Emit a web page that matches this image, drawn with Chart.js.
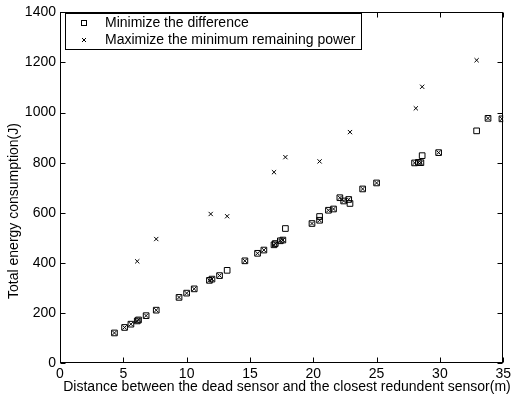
<!DOCTYPE html>
<html>
<head>
<meta charset="utf-8">
<script src="https://cdn.jsdelivr.net/npm/chart.js@4/dist/chart.umd.min.js"></script>
<style>
  html, body { margin: 0; padding: 0; background: #fff; }
  #wrap { width: 514px; height: 403px; }
</style>
</head>
<body>
<div id="wrap"><canvas id="energyChart" width="514" height="403"></canvas></div>
<script>
// Minimize the difference (squares)
const minDist = [4.3, 5.1, 5.6, 6.1, 6.2, 6.8, 7.6, 9.4, 10.0, 10.6, 11.8, 12.0, 12.6, 13.2, 14.6, 15.6, 16.1, 16.9, 17.0, 17.4,
                 17.6, 17.8, 19.9, 20.5, 20.5, 21.2, 21.6, 22.1, 22.4, 22.8, 22.9, 23.9, 25.0, 28.0, 28.3, 28.5, 28.6, 29.9, 32.9, 33.8, 34.9];
const minEnergy = [120, 142, 155, 168, 172, 189, 211, 262, 279, 296, 330, 335, 349, 370, 408, 438, 451, 472, 477, 488,
                   491, 537, 557, 570, 585, 610, 615, 660, 647, 653, 637, 695, 719, 799, 801, 800, 828, 840, 927, 977, 975];

// Maximize the minimum remaining power (crosses)
const maxDist = [4.3, 5.1, 5.6, 6.1, 6.2, 6.8, 7.6, 9.4, 10.0, 10.6, 11.8, 12.0, 12.6, 14.6, 15.6, 16.1, 16.9, 17.0, 17.4, 17.6,
                 19.9, 20.5, 21.2, 21.6, 22.1, 22.4, 22.8, 23.9, 25.0, 28.0, 28.3, 28.5, 29.9, 33.8, 34.9,
                 6.1, 7.6, 11.9, 13.2, 16.9, 17.8, 20.5, 22.9, 28.1, 28.6, 32.9];
const maxEnergy = [120, 142, 155, 168, 172, 189, 211, 262, 279, 296, 330, 335, 349, 408, 438, 451, 472, 477, 488, 491,
                   557, 570, 610, 615, 660, 647, 653, 695, 719, 799, 801, 800, 840, 977, 975,
                   406, 495, 595, 586, 762, 822, 805, 922, 1017, 1103, 1209];

const xTicks = [0, 5, 10, 15, 20, 25, 30, 35];
const yTicks = [0, 200, 400, 600, 800, 1000, 1200, 1400];

const seriesLabels = ['Minimize the difference', 'Maximize the minimum remaining power'];
const xTitle = 'Distance between the dead sensor and the closest redundent sensor(m)';
const yTitle = 'Total energy consumption(J)';

const FAMILY = "'Liberation Sans', Arial, sans-serif";
const FONT = "14px " + FAMILY;

function toPoints(xs, ys) {
    return xs.map((v, i) => ({ x: v, y: ys[i] }));
}

// frame, inward ticks, axis titles and the boxed legend (matlab look)
const matlabFrame = {
    id: 'matlabFrame',
    afterDraw(chart) {
        const ctx = chart.ctx;
        const a = chart.chartArea;
        const xs = chart.scales.x;
        const ys = chart.scales.y;
        const L = Math.round(a.left) + 0.5, R = Math.round(a.right) - 0.5;
        const T = Math.round(a.top) + 0.5, B = Math.round(a.bottom) - 0.5;
        ctx.save();
        ctx.strokeStyle = '#000';
        ctx.lineWidth = 1;
        ctx.strokeRect(L, T, R - L, B - T);

        ctx.beginPath();
        xTicks.forEach(v => {
            const px = Math.round(xs.getPixelForValue(v)) + 0.5;
            ctx.moveTo(px, B); ctx.lineTo(px, B - 5);
            ctx.moveTo(px, T); ctx.lineTo(px, T + 5);
        });
        yTicks.forEach(v => {
            const py = Math.round(ys.getPixelForValue(v)) + 0.5;
            ctx.moveTo(L, py); ctx.lineTo(L + 5, py);
            ctx.moveTo(R, py); ctx.lineTo(R - 5, py);
        });
        ctx.stroke();

        // axis titles
        ctx.fillStyle = '#000';
        ctx.font = FONT;
        ctx.textAlign = 'center';
        ctx.textBaseline = 'middle';
        ctx.fillText(xTitle, 287, 387);
        ctx.translate(14, 211);
        ctx.rotate(-Math.PI / 2);
        ctx.fillText(yTitle, 0, 0);
        ctx.setTransform(1, 0, 0, 1, 0, 0);

        // legend box
        ctx.fillStyle = '#fff';
        ctx.fillRect(65.5, 13.5, 296, 36);
        ctx.strokeRect(65.5, 13.5, 296, 36);
        ctx.fillStyle = '#000';
        ctx.textAlign = 'left';
        ctx.fillText(seriesLabels[0], 105, 23);
        ctx.fillText(seriesLabels[1], 105, 40);
        ctx.strokeRect(81.5, 20.5, 5, 5);
        ctx.beginPath();
        ctx.moveTo(82, 38); ctx.lineTo(86, 42);
        ctx.moveTo(86, 38); ctx.lineTo(82, 42);
        ctx.stroke();
        ctx.restore();
    }
};

const ctx = document.getElementById('energyChart').getContext('2d');
new Chart(ctx, {
    type: 'scatter',
    data: {
        datasets: [
            {
                label: seriesLabels[0],
                data: toPoints(minDist, minEnergy),
                pointStyle: 'rect',
                pointRadius: 4,
                borderColor: '#000',
                backgroundColor: 'rgba(0,0,0,0)',
                borderWidth: 1
            },
            {
                label: seriesLabels[1],
                data: toPoints(maxDist, maxEnergy),
                pointStyle: 'crossRot',
                pointRadius: 3,
                borderColor: '#000',
                backgroundColor: '#000',
                borderWidth: 1
            }
        ]
    },
    options: {
        responsive: false,
        animation: false,
        devicePixelRatio: 1,
        layout: { padding: { left: 0, top: 8, right: 8, bottom: 0 } },
        plugins: {
            legend: { display: false },
            tooltip: { enabled: false }
        },
        scales: {
            x: {
                type: 'linear',
                min: 0,
                max: 35,
                afterBuildTicks: scale => { scale.ticks = xTicks.map(v => ({ value: v })); },
                afterFit: scale => { scale.height = 40; },
                grid: { display: false, drawTicks: false },
                border: { display: false },
                ticks: { color: '#000', font: { family: FAMILY, size: 14 }, padding: 3, maxRotation: 0,
                         callback: v => String(v) }
            },
            y: {
                type: 'linear',
                min: 0,
                max: 1400,
                afterBuildTicks: scale => { scale.ticks = yTicks.map(v => ({ value: v })); },
                afterFit: scale => { scale.width = 60; },
                grid: { display: false, drawTicks: false },
                border: { display: false },
                ticks: { color: '#000', font: { family: FAMILY, size: 14 }, padding: 4,
                         callback: v => String(v) }
            }
        }
    },
    plugins: [matlabFrame]
});
</script>
</body>
</html>
